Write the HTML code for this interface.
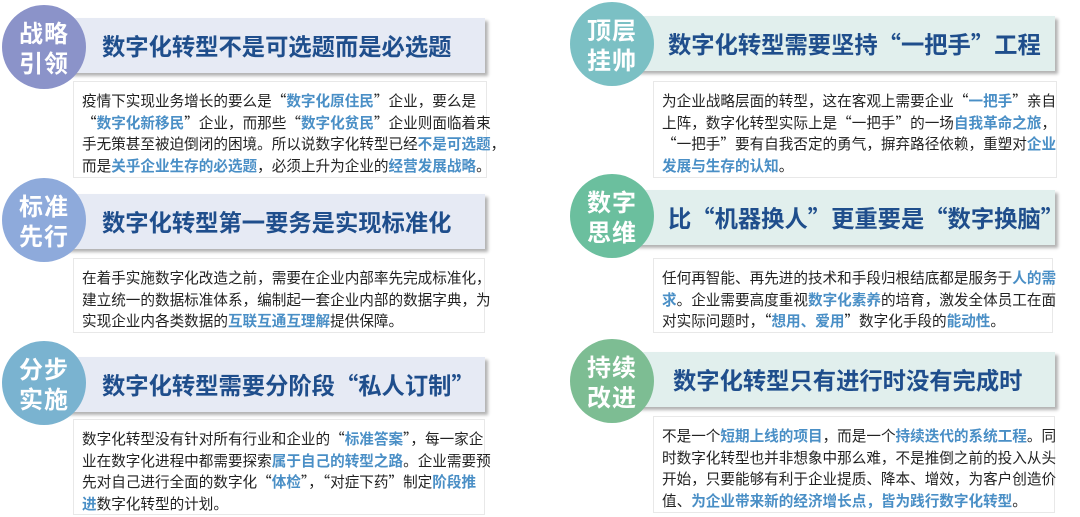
<!DOCTYPE html>
<html><head><meta charset="utf-8"><style>
*{margin:0;padding:0;box-sizing:border-box}
body{width:1080px;height:517px;background:#fff;position:relative;overflow:hidden;font-family:"Noto Sans CJK SC","Liberation Sans",sans-serif}
.c{position:absolute;width:84px;height:84px;border-radius:50%;color:#fff;font-weight:bold;font-size:24px;line-height:30px;text-align:center;padding-top:12px;z-index:3;letter-spacing:1px}
.b{position:absolute;height:55px;box-shadow:3px 3px 3px rgba(0,0,0,0.3);z-index:2;color:#1f4e8c;font-weight:bold;font-size:23.3px;line-height:55px;white-space:nowrap}
.bl{background:#e6eaf4}
.br{background:#e1efed}
.t{position:absolute;border:1px solid #e8e8e8;background:#fff;font-size:14.6px;line-height:21.5px;color:#222;padding:8px 0 0 8px;white-space:nowrap;z-index:1}
.h{color:#4a8fc6;font-weight:bold}
</style></head><body>

<div class="c" style="left:2px;top:5px;background:#8b93c9">战略<br>引领</div>
<div class="b bl" style="left:60px;top:18px;width:425px;padding-left:42px">数字化转型不是可选题而是必选题</div>
<div class="t" style="left:73px;top:81px;width:414px;height:97px">疫情下实现业务增长的要么是“<span class="h">数字化原住民</span>”企业，要么是<br>“<span class="h">数字化新移民</span>”企业，而那些“<span class="h">数字化贫民</span>”企业则面临着束<br>手无策甚至被迫倒闭的困境。所以说数字化转型已经<span class="h">不是可选题</span>，<br>而是<span class="h">关乎企业生存的必选题</span>，必须上升为企业的<span class="h">经营发展战略</span>。</div>

<div class="c" style="left:2px;top:178px;background:#8eaadb">标准<br>先行</div>
<div class="b bl" style="left:60px;top:194px;width:425px;padding-left:42px">数字化转型第一要务是实现标准化</div>
<div class="t" style="left:73px;top:258px;width:412px;height:75px">在着手实施数字化改造之前，需要在企业内部率先完成标准化，<br>建立统一的数据标准体系，编制起一套企业内部的数据字典，为<br>实现企业内各类数据的<span class="h">互联互通互理解</span>提供保障。</div>

<div class="c" style="left:2px;top:341px;background:#7ab3d0">分步<br>实施</div>
<div class="b bl" style="left:60px;top:357px;width:425px;padding-left:42px">数字化转型需要分阶段“私人订制”</div>
<div class="t" style="left:73px;top:419px;width:412px;height:96px">数字化转型没有针对所有行业和企业的“<span class="h">标准答案</span>”，每一家企<br>业在数字化进程中都需要探索<span class="h">属于自己的转型之路</span>。企业需要预<br>先对自己进行全面的数字化“<span class="h">体检</span>”，“对症下药”制定<span class="h">阶段推<br>进</span>数字化转型的计划。</div>

<div class="c" style="left:570px;top:2px;background:#7bc0c4">顶层<br>挂帅</div>
<div class="b br" style="left:625px;top:16px;width:430px;padding-left:43px">数字化转型需要坚持“一把手”工程</div>
<div class="t" style="left:653px;top:81px;width:404px;height:97px">为企业战略层面的转型，这在客观上需要企业“<span class="h">一把手</span>”亲自<br>上阵，数字化转型实际上是“一把手”的一场<span class="h">自我革命之旅</span>，<br>“一把手”要有自我否定的勇气，摒弃路径依赖，重塑对<span class="h">企业<br>发展与生存的认知</span>。</div>

<div class="c" style="left:570px;top:174px;background:#6bbf9e">数字<br>思维</div>
<div class="b br" style="left:625px;top:190px;width:430px;padding-left:43px">比“机器换人”更重要是“数字换脑”</div>
<div class="t" style="left:653px;top:258px;width:400px;height:75px">任何再智能、再先进的技术和手段归根结底都是服务于<span class="h">人的需<br>求</span>。企业需要高度重视<span class="h">数字化素养</span>的培育，激发全体员工在面<br>对实际问题时，“<span class="h">想用、爱用</span>”数字化手段的<span class="h">能动性</span>。</div>

<div class="c" style="left:570px;top:339px;background:#7dbd93">持续<br>改进</div>
<div class="b br" style="left:625px;top:352px;width:430px;padding-left:48px">数字化转型只有进行时没有完成时</div>
<div class="t" style="left:653px;top:416px;width:402px;height:97px">不是一个<span class="h">短期上线的项目</span>，而是一个<span class="h">持续迭代的系统工程</span>。同<br>时数字化转型也并非想象中那么难，不是推倒之前的投入从头<br>开始，只要能够有利于企业提质、降本、增效，为客户创造价<br>值、<span class="h">为企业带来新的经济增长点，皆为践行数字化转型</span>。</div>

</body></html>
